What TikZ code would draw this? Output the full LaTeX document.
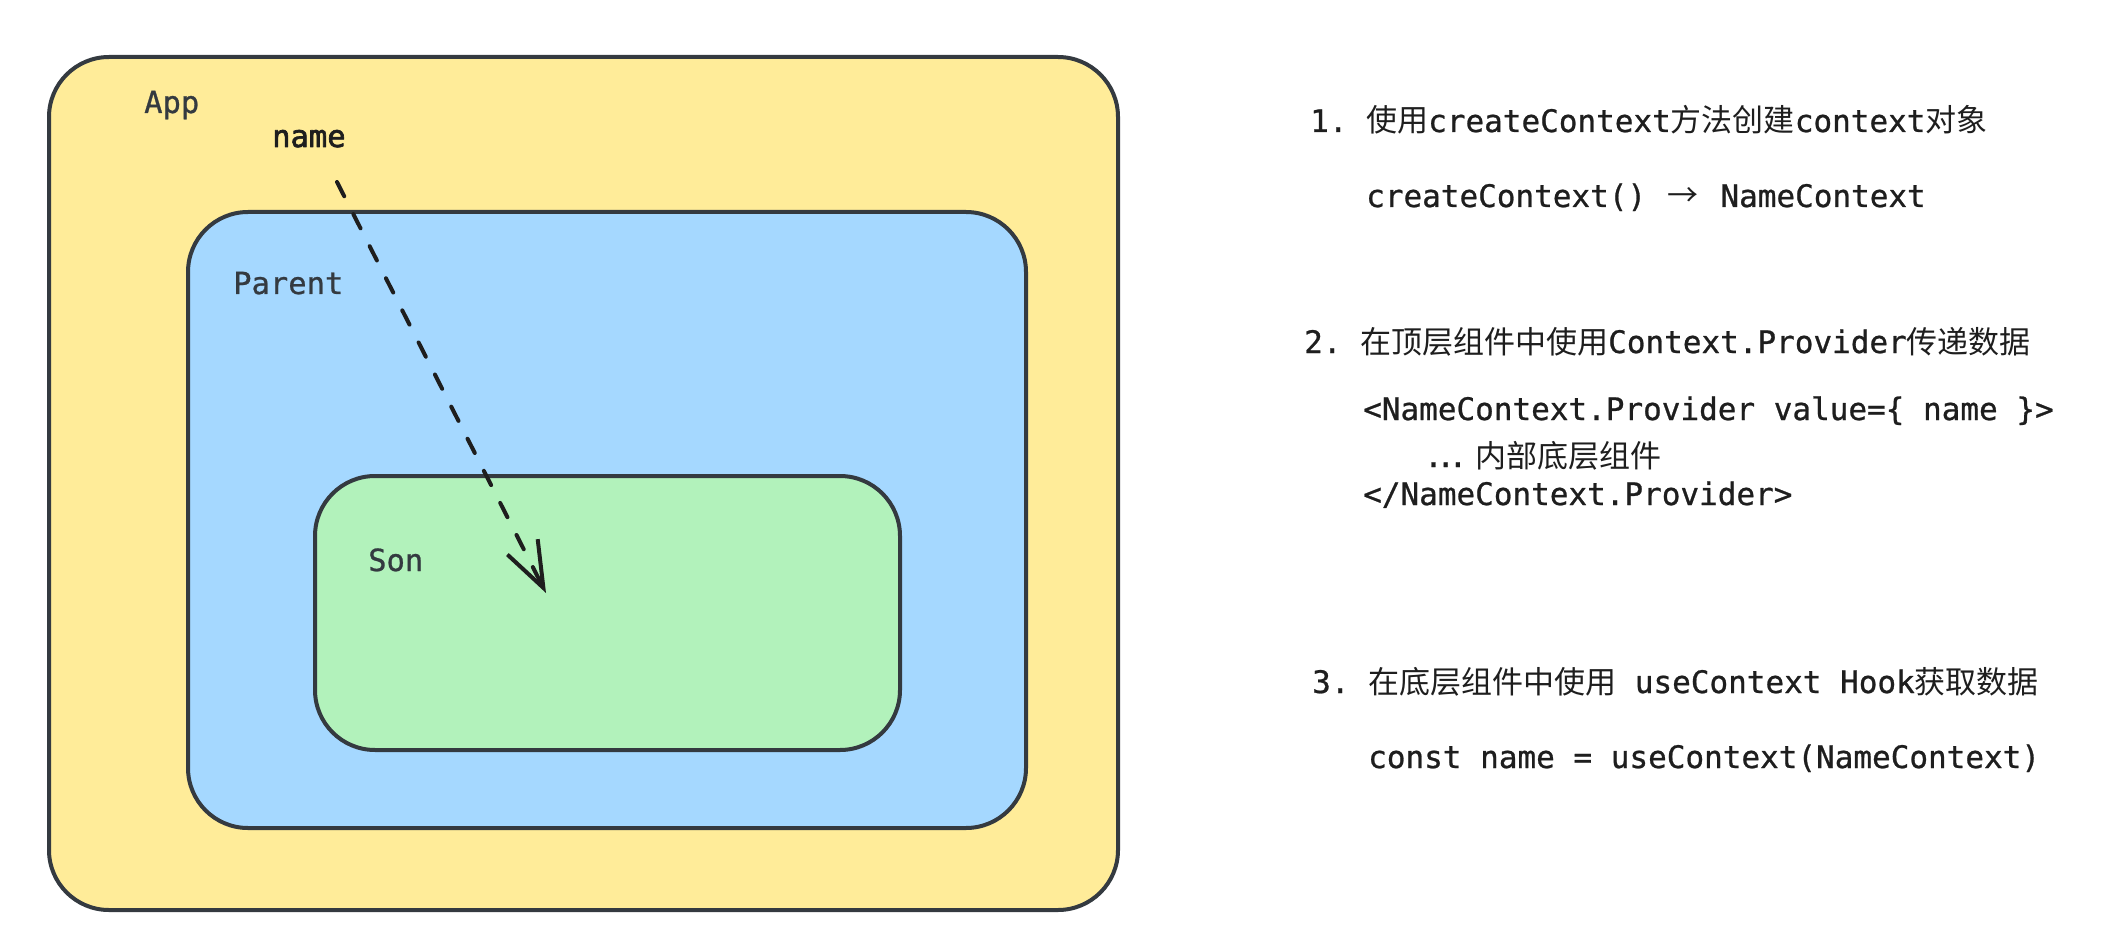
\documentclass[tikz,border=0pt]{standalone}
\usepackage{fontspec}
\setmonofont[FakeBold=0.8]{DejaVu Sans Mono}
\newfontfamily\namefont[FakeBold=2.2]{DejaVu Sans Mono}
\newfontfamily\cjk{Noto Sans CJK SC}
\usetikzlibrary{arrows.meta}

\definecolor{appfill}{HTML}{FFEC99}
\definecolor{parentfill}{HTML}{A5D8FF}
\definecolor{sonfill}{HTML}{B2F2BB}
\definecolor{edgegray}{HTML}{343A40}
\definecolor{ink}{HTML}{1E1E1E}
\newcommand{\zh}[1]{{\cjk #1}}
\newcommand{\ligarrow}{\makebox[37pt]{\zh{→}}}
\frenchspacing

\begin{document}
\begin{tikzpicture}[x=1pt, y=-1pt, line cap=round, line join=round,
  compbox/.style={draw=edgegray, line width=4pt, rounded corners=60pt, inner sep=0pt, outer sep=0pt},
  boxlabel/.style={anchor=base west, inner sep=0pt, text=edgegray, font=\ttfamily\fontsize{30.5}{38}\selectfont},
  stepline/.style={anchor=base west, inner sep=0pt, text=ink, font=\ttfamily\fontsize{31}{38}\selectfont}]

  %% ════ 三层组件框 ════
  \node[compbox, fill=appfill, minimum width=1069pt, minimum height=853pt] (app) at (583.5,483.5) {};
  \node[compbox, fill=parentfill, minimum width=838pt, minimum height=616pt] (parent) at (607.0,520.0) {};
  \node[compbox, fill=sonfill, minimum width=585pt, minimum height=274pt] (son) at (607.5,613.0) {};

  %% ════ 框内标签 ════
  \node[boxlabel] (applabel) at (144,113) {App};
  \node[boxlabel, text=ink, font=\namefont\fontsize{30.5}{38}\selectfont] (namelabel) at (272,147) {name};
  \node[boxlabel] (parentlabel) at (233,294) {Parent};
  \node[boxlabel] (sonlabel) at (368,571) {Son};

  %% ════ name 向下传递（虚线箭头）════
  \coordinate (namedrop) at (337,182);
  \coordinate (sonhit) at (546,593);
  \draw[ink, line width=4pt, dash pattern=on 16pt off 20pt,
        -{Straight Barb[length=46pt, width=34pt]}] (namedrop) -- (sonhit);

  %% ════ 右侧步骤说明 ════
  \node[stepline] (step1) at (1310,132) {1. \zh{使用}createContext\zh{方法创建}context\zh{对象}};
  \node[stepline] (step1code) at (1366,207) {createContext() \ligarrow{} NameContext};
  \node[stepline] (step2) at (1304,353) {2. \zh{在顶层组件中使用}Context.Provider\zh{传递数据}};
  \node[stepline] (step2open) at (1363,420) {<NameContext.Provider value=\{ name \}>};
  \node[stepline] (step2body) at (1424,467) {\makebox[51pt][l]{.\kern-6.5pt.\kern-6.5pt.}\zh{内部底层组件}};
  \node[stepline] (step2close) at (1363,505) {</NameContext.Provider>};
  \node[stepline] (step3) at (1312,693) {3. \zh{在底层组件中使用} useContext Hook\zh{获取数据}};
  \node[stepline] (step3code) at (1368,768) {const name = useContext(NameContext)};

  % 画布尺寸固定
  \pgfresetboundingbox
  \path[use as bounding box] (0,0) rectangle (2110,936);
\end{tikzpicture}
\end{document}
